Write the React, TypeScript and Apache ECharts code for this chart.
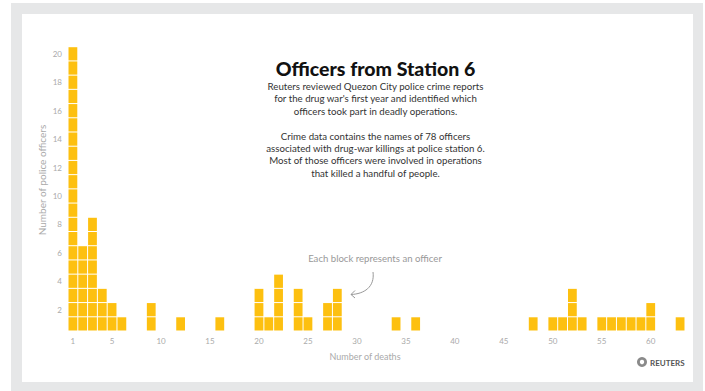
import React, { useEffect, useRef } from 'react';
import * as echarts from 'echarts';

// Number of deaths (x) and number of officers with that many deaths (block count)
const deathCounts = [1, 2, 3, 4, 5, 6, 9, 12, 16, 20, 21, 22, 24, 25, 27, 28, 34, 36, 48, 50, 51, 52, 53, 55, 56, 57, 58, 59, 60, 63];
const officerCounts = [20, 6, 8, 3, 2, 1, 2, 1, 1, 3, 1, 4, 3, 1, 2, 3, 1, 1, 1, 1, 1, 3, 1, 1, 1, 1, 1, 1, 2, 1];

const xCategories = Array.from({ length: 63 }, (_, i) => String(i + 1));
const yCategories = Array.from({ length: 20 }, (_, i) => String(i + 1));
const xTickLabels = ['1', '5', '10', '15', '20', '25', '30', '35', '40', '45', '50', '55', '60'];
const yTickLabels = ['2', '4', '6', '8', '10', '12', '14', '16', '18', '20'];

const titleText = 'Officers from Station 6';
const paragraph1 = [
  'Reuters reviewed Quezon City police crime reports',
  "for the drug war's first year and identified which",
  'officers took part in deadly operations.',
];
const paragraph2 = [
  'Crime data contains the names of 78 officers',
  'associated with drug-war killings at police station 6.',
  'Most of those officers were involved in operations',
  'that killed a handful of people.',
];
const annotationText = 'Each block represents an officer';

const YELLOW = '#fdc010';
const FONT = 'Lato, "Open Sans", sans-serif';

export default function App() {
  const ref = useRef<HTMLDivElement>(null);
  useEffect(() => {
    if (!ref.current) return;
    const chart = echarts.init(ref.current, undefined, { renderer: 'svg' });
    const textEls: any[] = [];
    const cx = 375.5;
    paragraph1.forEach((t, i) => {
      textEls.push({
        type: 'text', x: cx, y: 86 + i * 12.4,
        style: { text: t, fill: '#333', font: `9.7px ${FONT}`, textAlign: 'center', textVerticalAlign: 'middle' },
      });
    });
    paragraph2.forEach((t, i) => {
      textEls.push({
        type: 'text', x: cx, y: 136 + i * 12.2,
        style: { text: t, fill: '#333', font: `9.7px ${FONT}`, textAlign: 'center', textVerticalAlign: 'middle' },
      });
    });
    const option: any = {
      animation: false,
      backgroundColor: 'transparent',
      textStyle: { fontFamily: FONT },
      grid: { left: 68, right: 20, top: 46.7, bottom: 60, containLabel: false },
      xAxis: {
        type: 'category',
        data: xCategories,
        boundaryGap: true,
        axisLine: { show: false },
        axisTick: { show: false },
        splitLine: { show: false },
        axisLabel: {
          interval: (_i: number, v: string) => xTickLabels.indexOf(v) >= 0,
          color: '#aaa', fontSize: 8, margin: 6, fontFamily: FONT,
        },
      },
      yAxis: {
        type: 'category',
        data: yCategories,
        boundaryGap: true,
        axisLine: { show: false },
        axisTick: { show: false },
        splitLine: { show: false },
        axisLabel: {
          interval: (_i: number, v: string) => yTickLabels.indexOf(v) >= 0,
          color: '#aaa', fontSize: 8, margin: 6, fontFamily: FONT,
        },
      },
      series: [
        {
          type: 'custom',
          encode: { x: 0, y: 1 },
          data: deathCounts.map((d, i) => [String(d), '1', officerCounts[i]]),
          renderItem: (_params: any, api: any) => {
            const xi = api.value(0);
            const n = api.value(2);
            const size = api.size([1, 1]);
            const bw = size[0];
            const bh = size[1];
            const children: any[] = [];
            for (let k = 0; k < n; k++) {
              const c = api.coord([xi, k]);
              children.push({
                type: 'rect',
                shape: { x: c[0] - bw / 2 + 0.5, y: c[1] - bh / 2 + 0.5, width: bw - 1, height: bh - 1 },
                style: { fill: YELLOW },
              });
            }
            return { type: 'group', children };
          },
        },
      ],
      graphic: [
        { type: 'rect', z: -10, silent: true, shape: { x: 11, y: 3, width: 692, height: 388 }, style: { fill: '#e6e7e8' } },
        { type: 'rect', z: -9, silent: true, shape: { x: 22, y: 14, width: 671, height: 368 }, style: { fill: '#ffffff' } },
        {
          type: 'text', x: cx, y: 68,
          style: { text: titleText, fill: '#111', font: `900 19.5px ${FONT}`, textAlign: 'center', textVerticalAlign: 'middle' },
        },
        ...textEls,
        {
          type: 'text', x: 375, y: 258,
          style: { text: annotationText, fill: '#999', font: `9.6px ${FONT}`, textAlign: 'center', textVerticalAlign: 'middle' },
        },
        {
          type: 'bezierCurve',
          shape: { x1: 373, y1: 272, cpx1: 375, cpy1: 287, cpx2: 364, cpy2: 294, x2: 351, y2: 294.5 },
          style: { stroke: '#999', fill: 'none', lineWidth: 1 },
        },
        {
          type: 'polyline',
          shape: { points: [[355, 290.5], [351, 294.5], [355, 298]] },
          style: { stroke: '#999', fill: 'none', lineWidth: 1 },
        },
        {
          type: 'text', x: 365, y: 356,
          style: { text: 'Number of deaths', fill: '#aaa', font: `9px ${FONT}`, textAlign: 'center', textVerticalAlign: 'middle' },
        },
        {
          type: 'text', x: 42, y: 180, rotation: Math.PI / 2,
          style: { text: 'Number of police officers', fill: '#aaa', font: `10px ${FONT}`, textAlign: 'center', textVerticalAlign: 'middle' },
        },
        { type: 'ring', shape: { cx: 642, cy: 362, r: 5, r0: 2.2 }, style: { fill: '#8a8a8a' } },
        {
          type: 'text', x: 650, y: 362.5,
          style: { text: 'REUTERS', fill: '#555', font: `bold 8px ${FONT}`, textAlign: 'left', textVerticalAlign: 'middle' },
        },
      ],
    };
    chart.setOption(option);
    return () => chart.dispose();
  }, []);
  return (
    <div
      ref={ref}
      style={{ position: 'absolute', left: 0, top: 0, width: 705, height: 391 }}
    />
  );
}
